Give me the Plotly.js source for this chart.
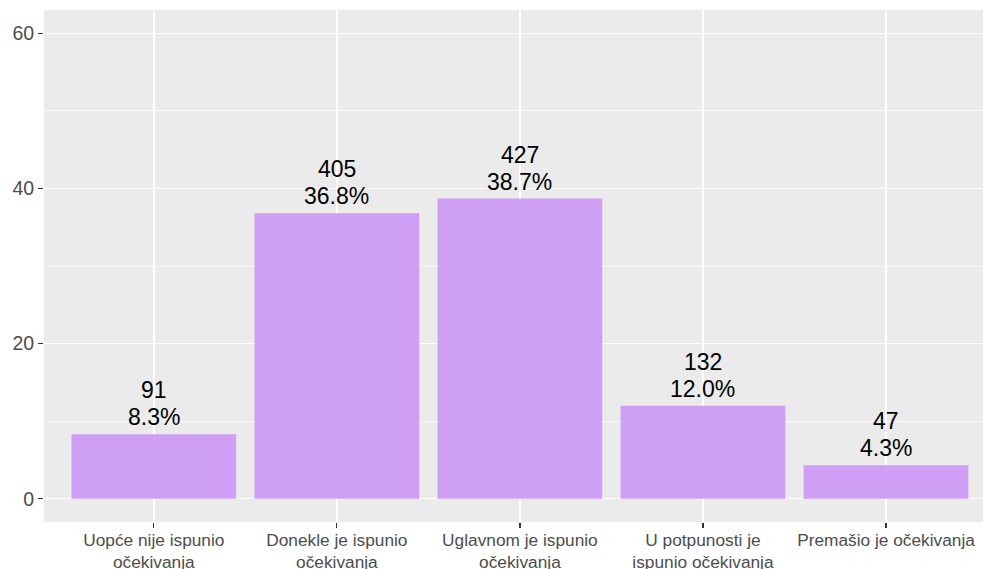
<!DOCTYPE html>
<html>
<head>
<meta charset="utf-8">
<script src="https://cdn.plot.ly/plotly-3.0.1.min.js"></script>
<style>html,body{margin:0;padding:0;background:#fff;}#chart{width:984px;height:569px;}</style>
</head>
<body>
<div id="chart"></div>
<script>
const categories = [
  "Uopće nije ispunio<br>očekivanja",
  "Donekle je ispunio<br>očekivanja",
  "Uglavnom je ispunio<br>očekivanja",
  "U potpunosti je<br>ispunio očekivanja",
  "Premašio je očekivanja"
];
const counts = [91, 405, 427, 132, 47];
const percents = [8.3, 36.8, 38.7, 12.0, 4.3];
const yTicks = [0, 20, 40, 60];

const FONT = "Liberation Sans, Arial, sans-serif";

const trace = {
  type: "bar",
  x: categories,
  y: percents,
  width: 0.9,
  marker: {color: "#CF9EF5", line: {width: 0}},
  hoverinfo: "none"
};

const annotations = [];
categories.forEach((c, i) => {
  annotations.push({
    x: c, y: percents[i], xref: "x", yref: "y",
    text: percents[i].toFixed(1) + "%",
    showarrow: false, yanchor: "bottom", xanchor: "center",
    yshift: 2,
    font: {family: FONT, size: 23, color: "#000000"}
  });
  annotations.push({
    x: c, y: percents[i], xref: "x", yref: "y",
    text: String(counts[i]),
    showarrow: false, yanchor: "bottom", xanchor: "center",
    yshift: 29,
    font: {family: FONT, size: 23, color: "#000000"}
  });
});

const layout = {
  width: 984, height: 569,
  margin: {l: 44, r: 1, t: 10, b: 47},
  paper_bgcolor: "#ffffff",
  plot_bgcolor: "#EBEBEB",
  showlegend: false,
  font: {family: FONT},
  annotations: annotations,
  xaxis: {
    range: [-0.6, 4.53],
    showgrid: true, gridcolor: "#ffffff", gridwidth: 1.5,
    ticks: "outside", ticklen: 5, tickwidth: 1.2, tickcolor: "#333333",
    ticklabelstandoff: -3,
    tickfont: {size: 17.3, color: "#4D4D4D"},
    zeroline: false, showline: false, fixedrange: true
  },
  yaxis: {
    range: [-3, 63],
    tickvals: yTicks,
    ticktext: yTicks.map(String),
    showgrid: true, gridcolor: "#ffffff", gridwidth: 1.5,
    minor: {tickvals: [10, 30, 50], showgrid: true, gridcolor: "#ffffff", gridwidth: 0.7, ticks: ""},
    ticks: "outside", ticklen: 5, tickwidth: 1.2, tickcolor: "#333333",
    tickfont: {size: 19.5, color: "#4D4D4D"},
    zeroline: false, showline: false, fixedrange: true
  }
};

Plotly.newPlot("chart", [trace], layout, {displayModeBar: false, staticPlot: true});
</script>
</body>
</html>
